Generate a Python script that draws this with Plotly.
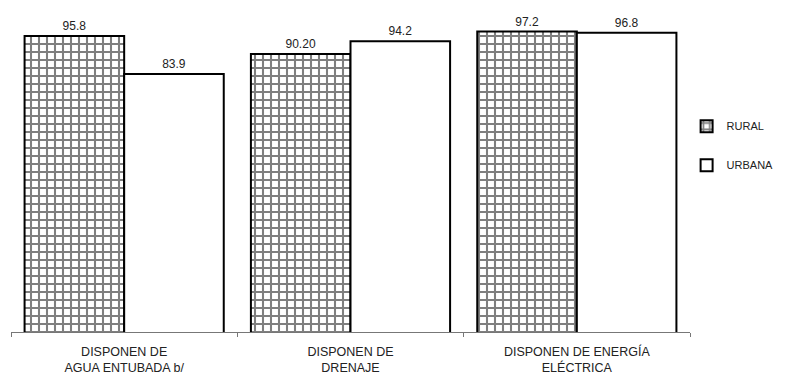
import plotly.graph_objects as go

# categorias y valores
categorias = ['DISPONEN DE<br>AGUA ENTUBADA b/', 'DISPONEN DE<br>DRENAJE', 'DISPONEN DE ENERGÍA<br>ELÉCTRICA']
rural = [95.8, 90.2, 97.2]
urbana = [83.9, 94.2, 96.8]
rural_txt = ['95.8', '90.20', '97.2']
urbana_txt = ['83.9', '94.2', '96.8']

fnt = dict(family='Liberation Sans, Arial, sans-serif', size=12, color='#222')

fig = go.Figure()
fig.add_trace(go.Bar(
    x=categorias, y=rural, name='RURAL', text=rural_txt, textposition='outside',
    marker=dict(color='white', line=dict(color='black', width=2),
                pattern=dict(shape='+', fgcolor='black', bgcolor='white', size=8, solidity=0.45)),
    legendgroup='a',
))
fig.add_trace(go.Bar(
    x=categorias, y=urbana, name='URBANA', text=urbana_txt, textposition='outside',
    marker=dict(color='white', line=dict(color='black', width=2)),
    legendgroup='b',
))

fig.update_traces(textfont=fnt, cliponaxis=False)
fig.update_layout(
    width=787, height=379,
    margin=dict(l=3, r=105, t=0, b=55),
    paper_bgcolor='white', plot_bgcolor='white',
    barmode='group', bargap=0.12, bargroupgap=0,
    font=fnt,
    legend=dict(x=0.995, y=0.68, xanchor='left', yanchor='top', tracegroupgap=20,
                font=dict(family='Liberation Sans, Arial, sans-serif', size=11, color='#222')),
    xaxis=dict(showline=True, linecolor='#777', linewidth=1, ticks='outside', tickson='boundaries',
               ticklen=4, tickcolor='#777', ticklabelstandoff=8,
               tickfont=dict(family='Liberation Sans, Arial, sans-serif', size=12.5, color='#222')),
    yaxis=dict(range=[3.0, 104.6], visible=False, showgrid=False),
)

fig.write_html('out.html')
